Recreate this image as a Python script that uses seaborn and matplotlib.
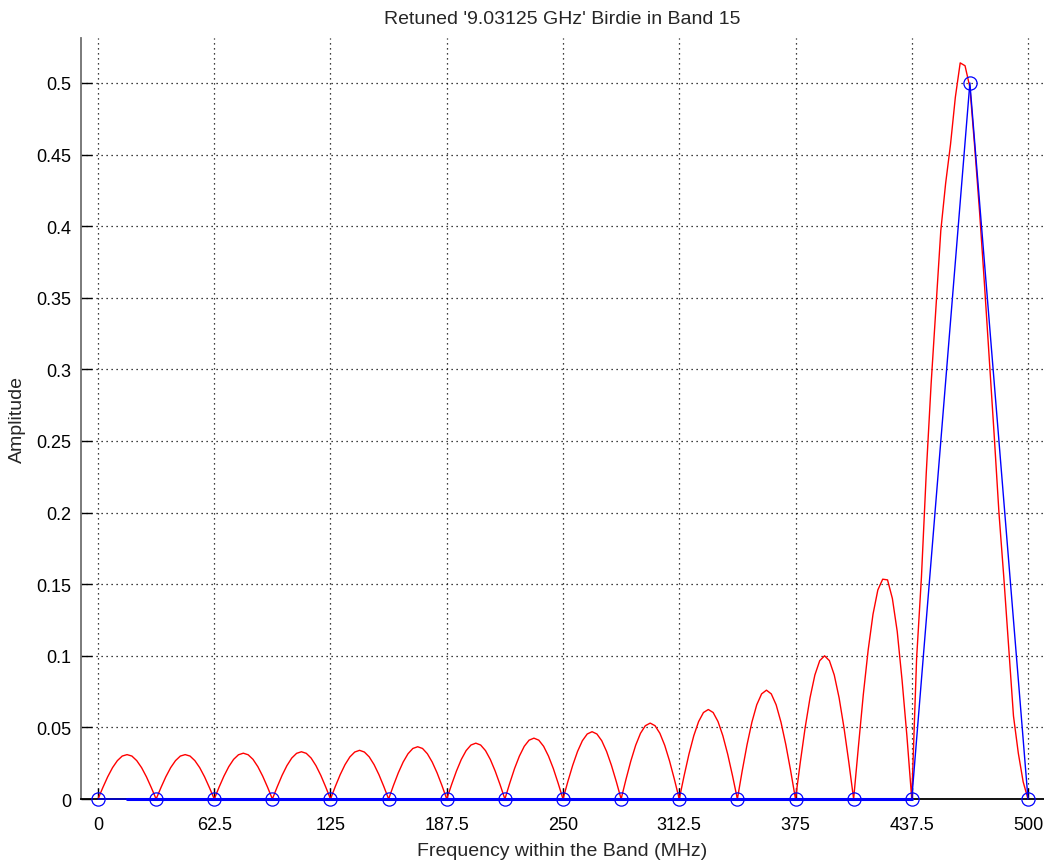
import numpy as np
import matplotlib
matplotlib.use("Agg")
import matplotlib.pyplot as plt
import seaborn as sns

# sampled bins (blue, with circles)
bin_freq = np.arange(0, 500.01, 31.25)
bin_amp = [0, 0, 0, 0, 0, 0, 0, 0, 0, 0, 0, 0, 0, 0, 0, 0.5, 0]

# thick blue baseline
base_freq = [15.625, 437.5]
base_amp = [0, 0]

# interpolated spectrum (red), 12 points per 31.25 MHz bin
lobes = [
    [0, .008, .0155, .0219, .0268, .03, .031, .03, .0268, .0219, .0155, .008],
    [0, .008, .0155, .0219, .0268, .03, .031, .03, .0268, .0219, .0155, .008],
    [0, .0083, .016, .0226, .0277, .0309, .032, .0309, .0277, .0226, .016, .0083],
    [0, .0085, .0165, .0233, .0286, .0319, .033, .0319, .0286, .0233, .0165, .0085],
    [0, .0088, .017, .024, .0294, .0328, .034, .0328, .0294, .024, .017, .0088],
    [0, .0095, .0183, .0258, .0316, .0353, .0365, .0353, .0316, .0258, .0183, .0095],
    [0, .0101, .0195, .0276, .0338, .0377, .039, .0377, .0338, .0276, .0195, .0101],
    [0, .011, .0213, .03, .0368, .0411, .0425, .0411, .0368, .03, .0213, .011],
    [0, .0122, .0235, .0332, .0407, .0454, .047, .0454, .0407, .0332, .0235, .0122],
    [0, .0137, .0265, .0375, .0459, .0512, .053, .0512, .0459, .0375, .0265, .0137],
    [0, .0162, .0313, .0442, .0541, .0604, .0625, .0604, .0541, .0442, .0313, .0162],
    [0, .0197, .038, .0537, .0658, .0734, .076, .0734, .0658, .0537, .038, .0197],
    [0, .0259, .05, .0707, .0866, .0966, .100, .0966, .0866, .0707, .05, .0259],
    [0, .037, .073, .104, .129, .146, .1535, .153, .140, .117, .083, .044],
]
main_lobe = [0, .098, .155, .228, .29, .343, .397, .43, .457, .49, .514, .512,
             .497, .455, .41, .36, .308, .255, .20, .155, .107, .058, .032, .012, 0]
spec_amp = [v for lobe in lobes for v in lobe] + main_lobe
spec_freq = np.linspace(0, 500, len(spec_amp))

xticks = [0, 62.5, 125, 187.5, 250, 312.5, 375, 437.5, 500]
xlabels = ["0", "62.5", "125", "187.5", "250", "312.5", "375", "437.5", "500"]
yticks = np.arange(0, 0.51, 0.05)
ylabels = ["0", "0.05", "0.1", "0.15", "0.2", "0.25", "0.3", "0.35", "0.4", "0.45", "0.5"]

sns.set_style("white")
plt.rcParams['font.family'] = ['Liberation Sans', 'DejaVu Sans']

fig = plt.figure(figsize=(10.44, 8.62), dpi=100)
ax = fig.add_axes([0.0776, 0.0719, 1 - 0.0776, 0.8829])

sns.lineplot(x=spec_freq, y=spec_amp, color="#ff0000", lw=1, ax=ax,
             sort=False, estimator=None)
sns.lineplot(x=base_freq, y=base_amp, color="#0000ff", lw=2.2, ax=ax,
             sort=False, estimator=None, clip_on=False, zorder=4)
sns.lineplot(x=bin_freq, y=bin_amp, color="#0000ff", lw=1, ax=ax,
             sort=False, estimator=None, marker="o", markersize=9.5,
             markerfacecolor="none", markeredgecolor="#0000ff", markeredgewidth=0.9,
             clip_on=False, zorder=4)

ax.set_xlim(-9.13, 508.6)
ax.set_ylim(0, 0.5314)
ax.set_xticks(xticks)
ax.set_xticklabels(xlabels)
ax.set_yticks(yticks)
ax.set_yticklabels(ylabels)
ax.tick_params(direction="in", length=8, width=1, labelsize=13, pad=7,
               bottom=True, left=True, top=False, right=False, colors="black")
ax.tick_params(axis="x", pad=12)

ax.grid(True, linestyle=(0, (1, 3)), color="black", lw=0.9)
for s in ["top", "right"]:
    ax.spines[s].set_visible(False)
ax.spines["left"].set_color("#707070")
ax.spines["left"].set_linewidth(1.3)
ax.spines["bottom"].set_color("black")
ax.spines["bottom"].set_linewidth(1.3)

ax.set_title("Retuned '9.03125 GHz' Birdie in Band 15", fontsize=14, pad=11)
ax.set_xlabel("Frequency within the Band (MHz)", fontsize=14, labelpad=7)
ax.set_ylabel("Amplitude", fontsize=14, labelpad=7)

fig.savefig("out.png", dpi=100)
